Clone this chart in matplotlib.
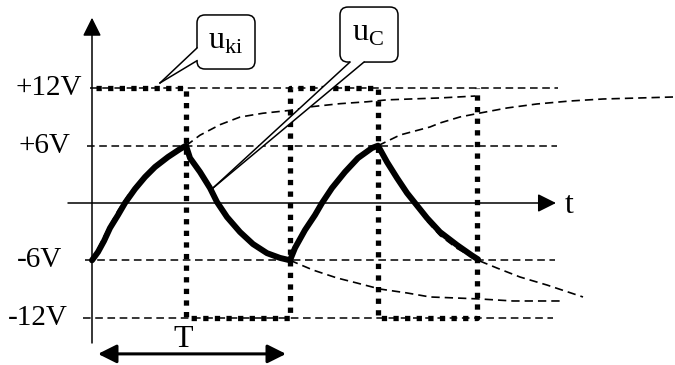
import matplotlib
matplotlib.use("Agg")
from matplotlib import pyplot as plt
from matplotlib.patches import FancyBboxPatch, Polygon

plt.rcParams['font.family'] = ['Liberation Serif', 'DejaVu Serif']
plt.rcParams['mathtext.fontset'] = 'custom'
plt.rcParams['mathtext.rm'] = 'Liberation Serif'

# reference voltage levels (V) and their labels
levels = [12, 6, -6, -12]
level_labels = ['+12V', '+6V', '-6V', '-12V']

# capacitor voltage u_C (thick curve), time in arbitrary units
uc_t = [0, 6, 12, 18, 26, 33, 43, 53, 63, 76, 88, 94,
        98, 108, 118, 125, 135, 148, 161, 175, 188, 198,
        203, 213, 223, 230, 240, 253, 266, 280, 286,
        295, 305, 315, 323, 335, 348, 365, 380, 386]
uc_v = [-6, -5.13, -3.98, -2.62, -1.26, 0, 1.47, 2.72, 3.77, 4.82, 5.65, 6.0,
        4.71, 3.25, 1.57, 0.1, -1.47, -3.04, -4.30, -5.25, -5.75, -6.0,
        -4.71, -2.83, -1.26, 0, 1.57, 3.25, 4.71, 5.76, 6.0,
        4.29, 2.62, 1.05, 0, -1.57, -3.04, -4.40, -5.5, -5.9]

# comparator output u_ki (square wave)
uki_t = [4, 94, 94, 198, 198, 286, 286, 385, 385]
uki_v = [12, 12, -12, -12, 12, 12, -12, -12, 12]

# dashed exponential continuations
exp_a_t = [94, 108, 128, 148, 171, 198, 221, 248, 275, 295, 321, 348, 383]
exp_a_v = [6.0, 7.1, 8.2, 9.0, 9.4, 9.7, 10.1, 10.4, 10.6, 10.8, 10.9, 11.0, 11.2]
exp_b_t = [286, 308, 338, 348, 368, 388, 415, 445, 478, 511, 545, 581]
exp_b_v = [6.0, 7.12, 7.96, 8.38, 9.01, 9.42, 9.95, 10.37, 10.68, 10.89, 10.99, 11.1]
exp_c_t = [198, 221, 245, 265, 288, 315, 338, 365, 388, 421, 471]
exp_c_v = [-6.0, -7.02, -7.85, -8.38, -9.01, -9.42, -9.84, -9.95, -10.05, -10.26, -10.26]
exp_d_t = [335, 348, 365, 386, 405, 428, 455, 491]
exp_d_v = [-1.9, -3.4, -4.75, -6.0, -6.81, -7.75, -8.59, -9.84]
exp_s_t = [0, 5, 11, 18, 26, 36, 46, 58, 73, 88, 94]
exp_s_v = [-6, -5.0, -3.7, -2.3, -0.8, 0.8, 2.1, 3.4, 4.6, 5.7, 6.0]

# period marker
period_start, period_end = 6, 194

px_per_volt = 9.55

fig = plt.figure(figsize=(6.75, 3.65), dpi=100)
ax = fig.add_axes([0, 0, 1, 1])
ax.set_xlim(-92, 583)
ax.set_ylim(-162 / px_per_volt, 203 / px_per_volt)
ax.axis('off')

dash = (0, (5, 3))

# horizontal reference lines and labels
line_ext = [(-2, 466), (-5, 465), (-7, 463), (-9, 461)]
label_x = [-10, -22, -30, -24]
for lv, lab, (x0, x1), lx in zip(levels, level_labels, line_ext, label_x):
    ax.plot([x0, x1], [lv, lv], color='k', lw=1.1, linestyle=dash)
    ax.text(lx, lv, lab, ha='right', va='center', fontsize=21)

# dashed exponentials
for t, v in [(exp_a_t, exp_a_v), (exp_b_t, exp_b_v), (exp_c_t, exp_c_v),
             (exp_d_t, exp_d_v), (exp_s_t, exp_s_v)]:
    ax.plot(t, v, color='k', lw=1.2, linestyle=dash)

# square wave
ax.plot(uki_t, uki_v, color='k', lw=3.8, linestyle=(0, (1.0, 1.2)),
        dash_capstyle='butt')

# capacitor voltage
ax.plot(uc_t, uc_v, color='k', lw=4.3, solid_joinstyle='round',
        solid_capstyle='round')

# axes with arrows
arrow = dict(arrowstyle='-|>', lw=1.1, color='k', mutation_scale=28,
             shrinkA=0, shrinkB=0)
ax.annotate('', xy=(464, 0), xytext=(-24, 0), arrowprops=arrow)
ax.annotate('', xy=(0, 19.4), xytext=(0, -14.66), arrowprops=arrow)
ax.text(477, -0.3, 't', ha='center', va='center', fontsize=23)

# period T
ax.annotate('', xy=(period_end, -15.8), xytext=(period_start, -15.8),
            arrowprops=dict(arrowstyle='<|-|>', lw=2.2, color='k',
                            mutation_scale=28, shrinkA=0, shrinkB=0))
ax.text((period_start + period_end) / 2 - 9, -14.3, 'T', ha='center',
        va='center', fontsize=23)


def callout(x0, x1, y0, y1, base, tip, text, text_xy):
    box = FancyBboxPatch((x0, y0), x1 - x0, y1 - y0,
                         boxstyle='round,pad=0,rounding_size=8',
                         mutation_aspect=1 / px_per_volt,
                         fc='white', ec='k', lw=1.1, zorder=5)
    ax.add_patch(box)
    (b1, b2, inner1, inner2) = base
    ax.add_patch(Polygon([inner1, b1, tip, b2, inner2], closed=True,
                         fc='white', ec='none', zorder=6))
    for b in (b1, b2):
        ax.plot([b[0], tip[0]], [b[1], tip[1]], color='k', lw=1.1, zorder=7)
    ax.text(text_xy[0], text_xy[1], text, ha='center', va='center',
            fontsize=23, zorder=8)


callout(105, 163, 14.03, 19.69,
        ((105, 16.23), (105, 14.9), (109, 16.23), (109, 14.9)),
        (68, 12.57), r'$\mathrm{u}_{\mathrm{ki}}$', (134, 16.9))
callout(248, 306, 14.76, 20.52,
        ((258, 14.76), (272, 14.76), (258, 15.3), (272, 15.3)),
        (121, 1.57), r'$\mathrm{u}_{\mathrm{C}}$', (276, 17.7))

fig.savefig('out.png', dpi=100)
